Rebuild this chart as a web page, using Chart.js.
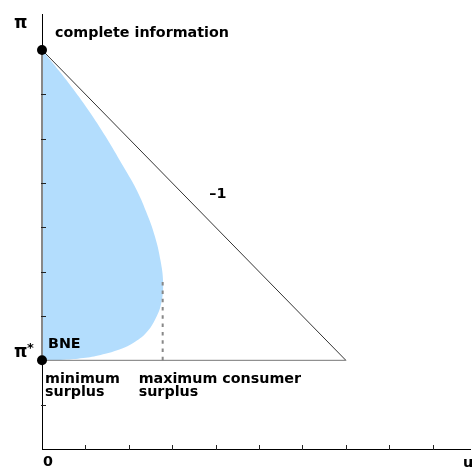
<!DOCTYPE html>
<html>
<head>
<meta charset="utf-8">
<script src="https://cdn.jsdelivr.net/npm/chart.js@4"></script>
<style>
  html, body { margin: 0; padding: 0; background: #fff; }
  #wrap { width: 475px; height: 472px; }
</style>
</head>
<body>
<div id="wrap"><canvas id="chart"></canvas></div>
<script>
// achievable (u, pi) region
const regionU  = [0, 0.41, 0.71, 1.09, 1.47, 1.85, 2.16, 2.40, 2.60, 2.73, 2.79, 2.75, 2.62, 2.40, 2.10, 1.75, 1.35, 0.95, 0.50, 0];
const regionPi = [9, 8.51, 8.13, 7.61, 7.04, 6.41, 5.88, 5.35, 4.80, 4.25, 3.75, 3.30, 2.95, 2.62, 2.39, 2.23, 2.12, 2.05, 2.01, 2];
// triangle: complete information, BNE, far corner
const cornerU  = [0, 0, 7];
const cornerPi = [9, 2, 2];
// maximum consumer surplus marker
const maxSurplusU = 2.78;
const maxSurplusPi = [2, 3.85];
const tickValues = [1, 2, 3, 4, 5, 6, 7, 8, 9];

const pts = (xs, ys) => xs.map((x, i) => ({ x: x, y: ys[i] }));
const corners = pts(cornerU, cornerPi);
const FONT = 'bold 14.3px "DejaVu Sans"';

const annotations = {
  id: 'annotations',
  afterDatasetsDraw(chart) {
    const { ctx, chartArea, scales: { x, y } } = chart;
    ctx.save();
    ctx.strokeStyle = '#222';
    ctx.lineWidth = 1;
    ctx.beginPath();
    tickValues.forEach(v => {
      const px = Math.round(x.getPixelForValue(v)) + 0.5;
      ctx.moveTo(px, chartArea.bottom - 4);
      ctx.lineTo(px, chartArea.bottom + 1);
      if (cornerPi.includes(v)) return;
      const py = Math.round(y.getPixelForValue(v)) + 0.5;
      ctx.moveTo(chartArea.left - 1, py);
      ctx.lineTo(chartArea.left + 4, py);
    });
    ctx.stroke();
    ctx.restore();
  },
  afterDraw(chart) {
    const { ctx, scales: { x, y } } = chart;
    const x0 = x.getPixelForValue(0);
    const top = y.getPixelForValue(cornerPi[0]);
    const bne = y.getPixelForValue(cornerPi[1]);
    ctx.save();
    ctx.fillStyle = '#000';
    ctx.textBaseline = 'alphabetic';
    ctx.textAlign = 'left';
    ctx.font = FONT;
    ctx.fillText('complete information', x0 + 13, top - 13);
    ctx.fillText('BNE', x0 + 6, bne - 12);
    ctx.fillText('minimum', x0 + 3, bne + 23);
    ctx.fillText('surplus', x0 + 3, bne + 36);
    const mx = x.getPixelForValue(maxSurplusU);
    ctx.fillText('maximum consumer', mx - 24, bne + 23);
    ctx.fillText('surplus', mx - 24, bne + 36);
    ctx.textAlign = 'center';
    ctx.fillText('–1', x.getPixelForValue(4.05), y.getPixelForValue(5.66));
    ctx.fillText('0', x0 + 6, chart.chartArea.bottom + 17);
    ctx.textAlign = 'left';
    ctx.fillText('u', 463, chart.chartArea.bottom + 18);
    ctx.font = 'bold 17px "DejaVu Sans"';
    ctx.fillText('π', 14, top - 22);
    ctx.fillText('π', 14, bne - 3);
    ctx.font = 'bold 13px "DejaVu Sans"';
    ctx.fillText('*', 27, bne - 8);
    ctx.restore();
  }
};

new Chart(document.getElementById('chart'), {
  type: 'scatter',
  data: {
    datasets: [
      {
        data: [corners[0], corners[1]],
        pointRadius: 5,
        pointBackgroundColor: '#000',
        pointBorderWidth: 0,
        showLine: false,
        clip: false,
        order: 0
      },
      {
        data: [corners[0], corners[2]],
        showLine: true,
        borderColor: '#333',
        borderWidth: 1,
        pointRadius: 0,
        clip: false,
        order: 1
      },
      {
        data: [corners[1], corners[2]],
        showLine: true,
        borderColor: '#777',
        borderWidth: 1,
        pointRadius: 0,
        clip: false,
        order: 2
      },
      {
        data: [corners[0], corners[1]],
        showLine: true,
        borderColor: '#888',
        borderWidth: 2,
        pointRadius: 0,
        clip: false,
        order: 2
      },
      {
        data: maxSurplusPi.map(v => ({ x: maxSurplusU, y: v })),
        showLine: true,
        borderColor: '#888',
        borderWidth: 2,
        borderDash: [3.5, 4.8],
        pointRadius: 0,
        clip: false,
        order: 3
      },
      {
        data: pts(regionU, regionPi),
        showLine: true,
        fill: 'shape',
        backgroundColor: '#b3ddfd',
        borderWidth: 0,
        borderColor: 'rgba(0,0,0,0)',
        tension: 0.4,
        pointRadius: 0,
        clip: false,
        order: 5
      }
    ]
  },
  options: {
    responsive: true,
    maintainAspectRatio: false,
    animation: false,
    layout: { padding: { top: 14, right: 0, left: 0, bottom: 0 } },
    plugins: { legend: { display: false }, tooltip: { enabled: false } },
    scales: {
      x: {
        type: 'linear', min: 0, max: 9.86,
        grid: { display: false },
        ticks: { display: false },
        border: { display: true, color: '#000', width: 1 },
        afterFit: s => { s.height = 23; }
      },
      y: {
        type: 'linear', min: 0, max: 9.81,
        grid: { display: false },
        ticks: { display: false },
        border: { display: true, color: '#000', width: 1 },
        afterFit: s => { s.width = 42; }
      }
    }
  },
  plugins: [annotations]
});
</script>
</body>
</html>
